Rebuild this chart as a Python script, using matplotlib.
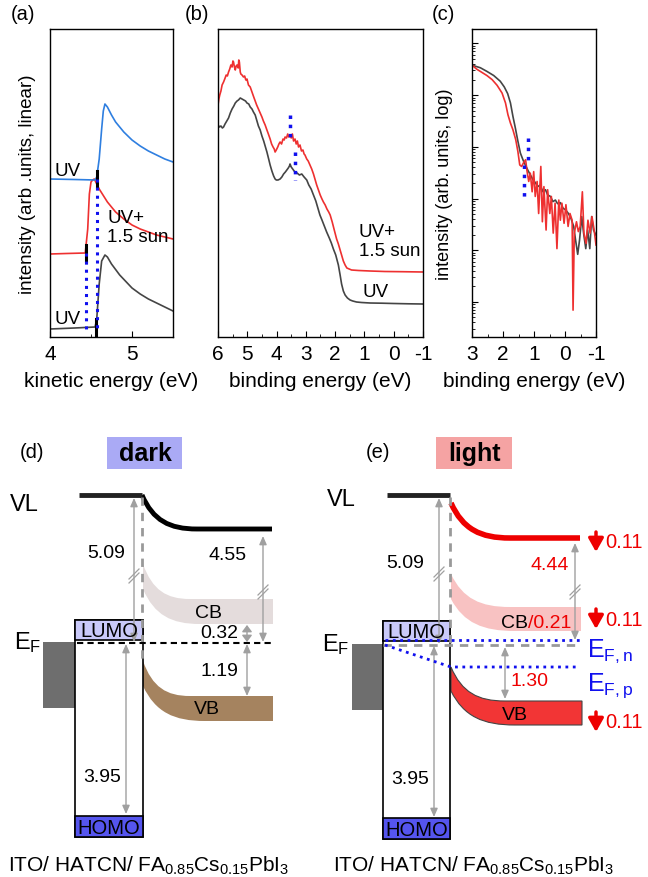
import matplotlib
matplotlib.use("Agg")
from matplotlib import pyplot as plt
from matplotlib.patches import Rectangle, PathPatch
from matplotlib.path import Path
from matplotlib.ticker import MultipleLocator, LogLocator, NullFormatter
import numpy as np

plt.rcParams['font.family'] = ['Liberation Sans', 'DejaVu Sans']
plt.rcParams['mathtext.fontset'] = 'custom'
plt.rcParams['mathtext.rm'] = 'Liberation Sans'
plt.rcParams['mathtext.it'] = 'Liberation Sans:italic'
plt.rcParams['mathtext.bf'] = 'Liberation Sans:bold'
plt.rcParams['axes.unicode_minus'] = False

# ---- (a) secondary electron cutoff, kinetic energy (eV) vs intensity (arb.)
a_uv_top_x = [4.0, 4.3, 4.55, 4.57, 4.60, 4.63, 4.65, 4.67, 4.70, 4.75, 4.8, 4.9, 5.0, 5.1, 5.2, 5.3, 5.4, 5.5]
a_uv_top_y = [158, 157.5, 157, 160, 178, 208, 226, 233, 230, 222, 215, 205, 197, 191, 186, 182, 178, 175]
a_light_x = [4.0, 4.2, 4.43, 4.46, 4.48, 4.50, 4.52, 4.54, 4.6, 4.7, 4.8, 4.9, 5.0, 5.1, 5.2, 5.3, 5.4, 5.5]
a_light_y = [83, 83.5, 84, 108, 143, 155, 157, 158, 148, 135, 125, 118, 112, 108, 105, 102, 100, 98]
a_uv_x = [4.0, 4.3, 4.55, 4.57, 4.60, 4.63, 4.67, 4.70, 4.75, 4.85, 5.0, 5.1, 5.2, 5.3, 5.4, 5.5]
a_uv_y = [8, 9, 10, 18, 53, 76, 82, 80, 73, 62, 49, 43, 38, 34, 30, 26]
a_cutoff_top = (4.57, 158)
a_cutoff_light = (4.44, 84)
a_cutoff_uv = (4.56, 10)

# ---- (b) valence band, binding energy (eV)
b_uv_x = [6.00, 5.95, 5.90, 5.85, 5.81, 5.76, 5.70, 5.64, 5.58, 5.52, 5.46, 5.41, 5.35, 5.30, 5.24, 5.18,
          5.12, 5.06, 5.01, 4.95, 4.90, 4.84, 4.79, 4.73, 4.67, 4.62, 4.56, 4.50, 4.44, 4.38, 4.33, 4.27,
          4.22, 4.16, 4.10, 4.05, 4.01, 3.95, 3.88, 3.82, 3.76, 3.70, 3.65, 3.60, 3.56, 3.54, 3.50, 3.45,
          3.40, 3.37, 3.30, 3.22, 3.14, 3.06, 2.97, 2.90, 2.82, 2.74, 2.66, 2.58, 2.52, 2.45, 2.37, 2.29,
          2.20, 2.13, 2.06, 1.98, 1.89, 1.83, 1.78, 1.72, 1.66, 1.58, 1.49, 1.40, 1.27, 1.10, 0.81, 0.4,
          0.0, -0.5, -1.0]
b_uv_y = [212, 210, 211, 209, 210, 213, 216, 219, 224, 228, 231, 234, 236, 237, 239, 238,
          237, 236, 234, 233, 230, 228, 225, 222, 216, 211, 207, 201, 196, 190, 185, 178,
          172, 166, 161, 158, 157, 157, 158, 160, 163, 165, 167, 169, 171, 173, 170, 168,
          166, 165, 164, 162, 163, 160, 157, 152, 148, 142, 136, 128, 122, 117, 111, 105,
          99, 94, 88, 82, 72, 62, 53, 46, 42, 39, 37, 36, 35, 34.5, 34, 33.8,
          33.5, 33.2, 33]
b_light_x = [6.00, 5.97, 5.94, 5.90, 5.86, 5.81, 5.77, 5.72, 5.68, 5.64, 5.60, 5.56, 5.52, 5.49, 5.47, 5.44,
             5.41, 5.38, 5.35, 5.31, 5.29, 5.27, 5.24, 5.22, 5.18, 5.13, 5.09, 5.05, 5.01, 4.96, 4.90, 4.84,
             4.78, 4.73, 4.68, 4.62, 4.56, 4.50, 4.45, 4.39, 4.33, 4.28, 4.22, 4.17, 4.12, 4.08, 4.05, 4.01,
             3.96, 3.92, 3.88, 3.83, 3.78, 3.74, 3.71, 3.66, 3.62, 3.58, 3.54, 3.50, 3.46, 3.42, 3.37, 3.33,
             3.29, 3.25, 3.20, 3.15, 3.10, 3.06, 3.03, 2.97, 2.92, 2.86, 2.80, 2.74, 2.69, 2.63, 2.57, 2.51,
             2.45, 2.40, 2.34, 2.28, 2.22, 2.17, 2.10, 2.03, 1.95, 1.89, 1.84, 1.78, 1.72, 1.66, 1.60, 1.52,
             1.44, 1.20, 0.81, 0.3, -0.3, -1.0]
b_light_y = [232, 238, 242, 246, 252, 255, 258, 262, 261, 265, 268, 272, 270, 276, 275, 270,
             267, 271, 272, 269, 277, 275, 265, 263, 262, 260, 261, 257, 258, 252, 250, 245,
             240, 236, 232, 228, 224, 220, 216, 212, 207, 203, 198, 193, 190, 188, 185, 187,
             190, 193, 195, 193, 198, 197, 200, 199, 203, 200, 202, 199, 203, 196, 198, 193,
             196, 190, 192, 186, 187, 183, 182, 178, 176, 172, 168, 163, 158, 152, 147, 142,
             138, 135, 132, 128, 125, 122, 115, 107, 98, 93, 88, 82, 76, 72, 69, 68,
             67, 66.5, 66, 65.5, 65.3, 65]
b_mark_light = (3.54, 222, 195)
b_mark_uv = (3.37, 185, 157)

# ---- (c) near-edge, log scale (values are log10 of intensity)
c_uv_x = [3.00, 2.73, 2.52, 2.30, 2.09, 1.96, 1.85, 1.76, 1.68, 1.60, 1.53, 1.44, 1.35, 1.28, 1.20, 1.12,
          1.03, 0.96, 0.88, 0.80, 0.71, 0.63, 0.56, 0.47, 0.39, 0.31, 0.24, 0.15, 0.06, -0.02, -0.11, -0.19,
          -0.28, -0.34, -0.41, -0.47, -0.54, -0.60, -0.67, -0.73, -0.80, -0.86, -0.92, -1.00]
c_uv_log = [4.58, 4.53, 4.46, 4.38, 4.27, 4.16, 4.03, 3.85, 3.59, 3.36, 3.14, 2.88, 2.74, 2.65, 2.55, 2.46,
            2.36, 2.31, 2.23, 2.26, 2.13, 2.17, 2.07, 2.04, 1.94, 1.97, 1.90, 1.92, 1.81, 1.78, 1.71, 1.62,
            1.46, 1.20, 0.92, 1.20, 1.65, 1.33, 1.03, 1.39, 1.03, 1.65, 1.39, 1.29]
c_light_x = [3.00, 2.84, 2.68, 2.52, 2.35, 2.19, 2.03, 1.92, 1.84, 1.76, 1.68, 1.59, 1.52, 1.46, 1.40, 1.33,
             1.27, 1.23, 1.17, 1.12, 1.06, 1.01, 0.96, 0.90, 0.85, 0.78, 0.73, 0.68, 0.61, 0.56, 0.49, 0.44,
             0.38, 0.32, 0.26, 0.20, 0.15, 0.10, 0.03, -0.03, -0.10, -0.16, -0.23, -0.26, -0.30, -0.37, -0.43,
             -0.49, -0.56, -0.61, -0.68, -0.74, -0.81, -0.87, -0.94, -1.00]
c_light_log = [4.58, 4.50, 4.44, 4.38, 4.30, 4.19, 4.04, 3.85, 3.62, 3.46, 3.33, 3.14, 2.91, 2.65, 2.62, 2.70,
               2.75, 2.55, 2.33, 2.49, 2.13, 2.52, 2.04, 2.33, 1.71, 2.62, 1.55, 2.23, 1.39, 2.17, 1.71, 2.04,
               1.33, 1.91, 1.03, 1.97, 1.58, 1.91, 1.52, 1.88, 1.46, 1.71, 1.58, -0.16, 1.33, 1.55, 1.36,
               1.46, 2.13, 1.33, 1.13, 1.58, 1.33, 1.65, 1.39, 1.10]
c_mark_1 = (1.20, 3.17, 2.65)
c_mark_2 = (1.33, 2.65, 1.97)

# ---- (d)/(e) energy level values (eV)
wf_hatcn = "5.09"
gap_hatcn = "3.95"
dark_vals = {"wf": "4.55", "cb": "0.32", "vb": "1.19"}
light_vals = {"wf": "4.44", "cb": "0.21", "vb": "1.30", "shift": "0.11"}

BLUE = '#2f7fe0'
RED = '#ee3030'
GRAY = '#454545'
DOT = '#1010ee'
FS = 13.5     # text inside panels
FL = 15       # axis labels / ticks
FB = 14       # numbers in the schematics

fig = plt.figure(figsize=(6.48, 8.78), dpi=100)
H = 878.0
W = 648.0


def box(x0, y0, x1, y1):
    return [x0 / W, 1 - y1 / H, (x1 - x0) / W, (y1 - y0) / H]


def style_axis(ax):
    for s in ax.spines.values():
        s.set_linewidth(1.0)
    ax.tick_params(axis='both', which='both', direction='in', labelsize=FL, pad=5)
    ax.tick_params(which='major', length=4)
    ax.tick_params(which='minor', length=2)


# (a)
ax1 = fig.add_axes(box(50, 30, 173, 338))
ax1.plot(a_uv_x, a_uv_y, color=GRAY, lw=1.2)
ax1.plot(a_light_x, a_light_y, color=RED, lw=1.2)
ax1.plot(a_uv_top_x, a_uv_top_y, color=BLUE, lw=1.2)
for cx, cy in [a_cutoff_top, a_cutoff_light, a_cutoff_uv]:
    ax1.plot([cx, cx], [cy - 8, cy + 8], color='black', lw=2.2)
ax1.plot([a_cutoff_light[0]] * 2, [a_cutoff_light[1], 8], color=DOT, lw=2.2, ls=':')
ax1.plot([a_cutoff_top[0]] * 2, [a_cutoff_top[1], 8], color=DOT, lw=2.2, ls=':')
ax1.text(4.06, 166, 'UV', fontsize=FS, va='center')
ax1.text(4.70, 110, 'UV+\n1.5 sun', fontsize=FS, va='center')
ax1.text(4.06, 18, 'UV', fontsize=FS, va='center')
ax1.set_xlim(4, 5.5)
ax1.set_ylim(0, 308)
ax1.set_yticks([])
ax1.set_xticks([4, 5])
ax1.xaxis.set_minor_locator(MultipleLocator(0.5))
ax1.set_xlabel('kinetic energy (eV)', fontsize=FL, labelpad=6)
ax1.set_ylabel('intensity (arb .units, linear)', fontsize=FS, labelpad=10)
style_axis(ax1)

# (b)
ax2 = fig.add_axes(box(218, 30, 423, 338))
ax2.plot(b_uv_x, b_uv_y, color=GRAY, lw=1.2)
ax2.plot(b_light_x, b_light_y, color=RED, lw=1.2)
for mx, y0, y1 in [b_mark_light, b_mark_uv]:
    ax2.plot([mx, mx], [y0, y1], color=DOT, lw=2.5, ls=':')
ax2.text(1.19, 96, 'UV+\n1.5 sun', fontsize=FS, va='center')
ax2.text(1.06, 45, 'UV', fontsize=FS, va='center')
ax2.set_xlim(6, -1)
ax2.set_ylim(0, 308)
ax2.set_yticks([])
ax2.set_xticks(range(6, -2, -1))
ax2.xaxis.set_minor_locator(MultipleLocator(0.5))
ax2.set_xlabel('binding energy (eV)', fontsize=FL, labelpad=6)
style_axis(ax2)

# (c)
ax3 = fig.add_axes(box(472, 30, 596, 338))
ax3.semilogy(c_uv_x, 10 ** np.array(c_uv_log), color=GRAY, lw=1.2)
ax3.semilogy(c_light_x, 10 ** np.array(c_light_log), color=RED, lw=1.2)
for mx, l0, l1 in [c_mark_1, c_mark_2]:
    ax3.plot([mx, mx], [10 ** l0, 10 ** l1], color=DOT, lw=2.5, ls=':')
ax3.set_xlim(3, -1)
ax3.set_ylim(10 ** -0.68, 10 ** 5.28)
ax3.set_xticks([3, 2, 1, 0, -1])
ax3.xaxis.set_minor_locator(MultipleLocator(0.5))
ax3.yaxis.set_major_locator(LogLocator(base=10, numticks=12))
ax3.yaxis.set_minor_locator(LogLocator(base=10, subs=np.arange(2, 10), numticks=12))
ax3.yaxis.set_major_formatter(NullFormatter())
ax3.yaxis.set_minor_formatter(NullFormatter())
ax3.set_xlabel('binding energy (eV)', fontsize=FL, labelpad=6)
ax3.set_ylabel('intensity (arb. units, log)', fontsize=13, labelpad=9)
style_axis(ax3)

fig.text(23 / W, 1 - 14 / H, '(a)', fontsize=14.5, ha='center', va='center')
fig.text(197 / W, 1 - 14 / H, '(b)', fontsize=14.5, ha='center', va='center')
fig.text(443 / W, 1 - 14 / H, '(c)', fontsize=14.5, ha='center', va='center')

# (d)/(e) schematic, drawn in pixel layout
axb = fig.add_axes([0, 0, 1, 448 / H])
axb.set_xlim(0, W)
axb.set_ylim(H, 430)
axb.axis('off')

ARR = '#a0a0a0'


def bend(x0, y0, x1, y1):
    return [(x0, y0), (x0 + 0.2 * (x1 - x0), y0 + 0.75 * (y1 - y0)), (x0 + 0.5 * (x1 - x0), y1), (x1, y1)]


def vl_curve(x0, y0, x1, y1, xend, color, lw):
    pts = bend(x0, y0, x1, y1) + [(xend, y1)]
    codes = [Path.MOVETO, Path.CURVE4, Path.CURVE4, Path.CURVE4, Path.LINETO]
    axb.add_patch(PathPatch(Path(pts, codes), fill=False, ec=color, lw=lw, capstyle='butt'))


def band(x0, t0, t1x, t1, b0, b1x, b1, xend, fc, ec='none'):
    top = bend(x0, t0, t1x, t1)
    bot = bend(x0, b0, b1x, b1)[::-1]
    pts = top + [(xend, t1), (xend, b1)] + bot + [(x0, t0)]
    codes = [Path.MOVETO] + [Path.CURVE4] * 3 + [Path.LINETO, Path.LINETO, Path.LINETO] + [Path.CURVE4] * 3 + [Path.CLOSEPOLY]
    axb.add_patch(PathPatch(Path(pts, codes), fc=fc, ec=ec, lw=0.8))


def darrow(x, y0, y1, hw=0.22, hl=0.5):
    axb.annotate('', xy=(x, y1), xytext=(x, y0),
                 arrowprops=dict(arrowstyle='<|-|>,head_width=%s,head_length=%s' % (hw, hl),
                                 color=ARR, lw=1.0, shrinkA=0, shrinkB=0))


def brk(x, y):
    for dy in (-2, 2):
        axb.plot([x - 5, x + 5], [y + 5 + dy, y - 5 + dy], color=ARR, lw=0.9)


def down(x, y, val):
    axb.annotate('', xy=(x, y + 10), xytext=(x, y - 10),
                 arrowprops=dict(arrowstyle='-|>,head_width=0.45,head_length=0.8',
                                 color='#ee0000', lw=2.5, shrinkA=0, shrinkB=0))
    axb.text(x + 9, y, val, color='#ee0000', fontsize=FB + 0.5, va='center', ha='left')


def device(x0, x1, ito_x, ef_y, top_y, bot_y):
    axb.add_patch(Rectangle((ito_x, ef_y - 1), x0 - ito_x, 66, fc='#6e6e6e', ec='none'))
    axb.add_patch(Rectangle((x0, top_y), x1 - x0, bot_y - top_y, fc='white', ec='black', lw=1.2))
    axb.add_patch(Rectangle((x0, top_y), x1 - x0, 20, fc='#c9c9f9', ec='black', lw=1.2, zorder=3))
    axb.add_patch(Rectangle((x0, bot_y - 21), x1 - x0, 21, fc='#5555ee', ec='black', lw=1.2, zorder=3))
    axb.text((x0 + x1) / 2, top_y + 10.5, 'LUMO', fontsize=FB + 0.5, ha='center', va='center', zorder=4)
    axb.text((x0 + x1) / 2, bot_y - 10, 'HOMO', fontsize=FB + 0.5, ha='center', va='center', zorder=4)


bottom_label = 'ITO/ HATCN/ FA$_{0.85}$Cs$_{0.15}$PbI$_3$'

# ---- (d) dark
axb.text(32, 453, '(d)', fontsize=14.5, ha='center', va='center')
axb.add_patch(Rectangle((107, 438), 75, 32, fc='#aaaaf5', ec='none'))
axb.text(145, 454, 'dark', fontsize=18, fontweight='bold', ha='center', va='center')
axb.text(24, 505, 'VL', fontsize=17, ha='center', va='center')
axb.plot([79, 142], [496, 496], color='#222222', lw=3.5, solid_capstyle='butt')
vl_curve(142, 496, 197, 530, 272, 'black', 3.5)
band(143, 565, 190, 600, 590, 200, 625, 273, '#e4dcdc')
band(143, 662, 190, 697, 687, 205, 722, 273, '#a5835f')
axb.text(208, 613, 'CB', fontsize=FB, ha='center', va='center')
axb.text(207, 710, 'VB', fontsize=FB, ha='center', va='center')
device(75, 143, 43, 644, 621, 838)
axb.plot([142, 142], [498, 660], color='#999999', lw=2, ls=(0, (3, 2.5)), zorder=5)
axb.plot([77, 272], [644, 644], color='black', lw=1.5, ls=(0, (3, 2)), zorder=5)
axb.text(28, 643, 'E$_\\mathrm{F}$', fontsize=17, ha='center', va='center')
darrow(134, 499, 643)
brk(134, 577)
axb.text(106, 553, wf_hatcn, fontsize=FB, ha='center', va='center')
darrow(263, 537, 643)
brk(263, 593)
axb.text(228, 555, dark_vals['wf'], fontsize=FB, ha='center', va='center')
darrow(247, 626, 643, hw=0.3, hl=0.4)
axb.text(219, 633, dark_vals['cb'], fontsize=FB, ha='center', va='center')
darrow(247, 645, 697)
axb.text(219, 672, dark_vals['vb'], fontsize=FB, ha='center', va='center')
darrow(126, 645, 815)
axb.text(102, 778, gap_hatcn, fontsize=FB, ha='center', va='center')
axb.text(8, 866, bottom_label, fontsize=15, ha='left', va='center')

# ---- (e) light
axb.text(378, 453, '(e)', fontsize=14.5, ha='center', va='center')
axb.add_patch(Rectangle((436, 438), 76, 32, fc='#f5a3a3', ec='none'))
axb.text(474, 454, 'light', fontsize=18, fontweight='bold', ha='center', va='center')
axb.text(341, 500, 'VL', fontsize=17, ha='center', va='center')
axb.plot([387, 450], [496, 496], color='#222222', lw=3.5, solid_capstyle='butt')
vl_curve(451, 504, 510, 539, 580, '#ee0000', 4)
band(451, 575, 510, 608, 600, 515, 632, 581, '#f8c2c2')
band(451, 668, 505, 702, 692, 515, 726, 582, '#f23535', ec='#444444')
axb.text(528, 623, 'CB', fontsize=FB, ha='right', va='center')
axb.text(528, 623, '/' + light_vals['cb'], fontsize=FB, ha='left', va='center', color='#ee0000')
axb.text(515, 716, 'VB', fontsize=FB, ha='center', va='center')
device(383, 450, 352, 646, 622, 840)
axb.plot([450, 450], [498, 645], color='#999999', lw=2, ls=(0, (3, 2.5)), zorder=5)
axb.plot([383, 580], [646, 646], color='#999999', lw=2, ls=(0, (3, 2.5)), zorder=5)
axb.plot([385, 580], [641, 641], color=DOT, lw=2, ls=':', zorder=6)
axb.plot([385, 451, 580], [646, 668, 668], color=DOT, lw=2, ls=':', zorder=6)
axb.text(336, 645, 'E$_\\mathrm{F}$', fontsize=17, ha='center', va='center')
axb.text(587, 651, 'E$_\\mathrm{F,n}$', fontsize=18, ha='left', va='center', color=DOT)
axb.text(587, 686, 'E$_\\mathrm{F,p}$', fontsize=18, ha='left', va='center', color=DOT)
darrow(439, 499, 645)
brk(439, 575)
axb.text(405, 563, wf_hatcn, fontsize=FB, ha='center', va='center')
darrow(575, 544, 641)
brk(575, 593)
axb.text(550, 565, light_vals['wf'], fontsize=FB, ha='center', va='center', color='#ee0000')
darrow(505, 648, 700)
axb.text(530, 682, light_vals['vb'], fontsize=FB, ha='center', va='center', color='#ee0000')
darrow(434, 647, 818)
axb.text(410, 780, gap_hatcn, fontsize=FB, ha='center', va='center')
for yy in (543, 620, 723):
    down(596, yy, light_vals['shift'])
axb.text(333, 866, bottom_label, fontsize=15, ha='left', va='center')

fig.savefig('out.png', dpi=100)
